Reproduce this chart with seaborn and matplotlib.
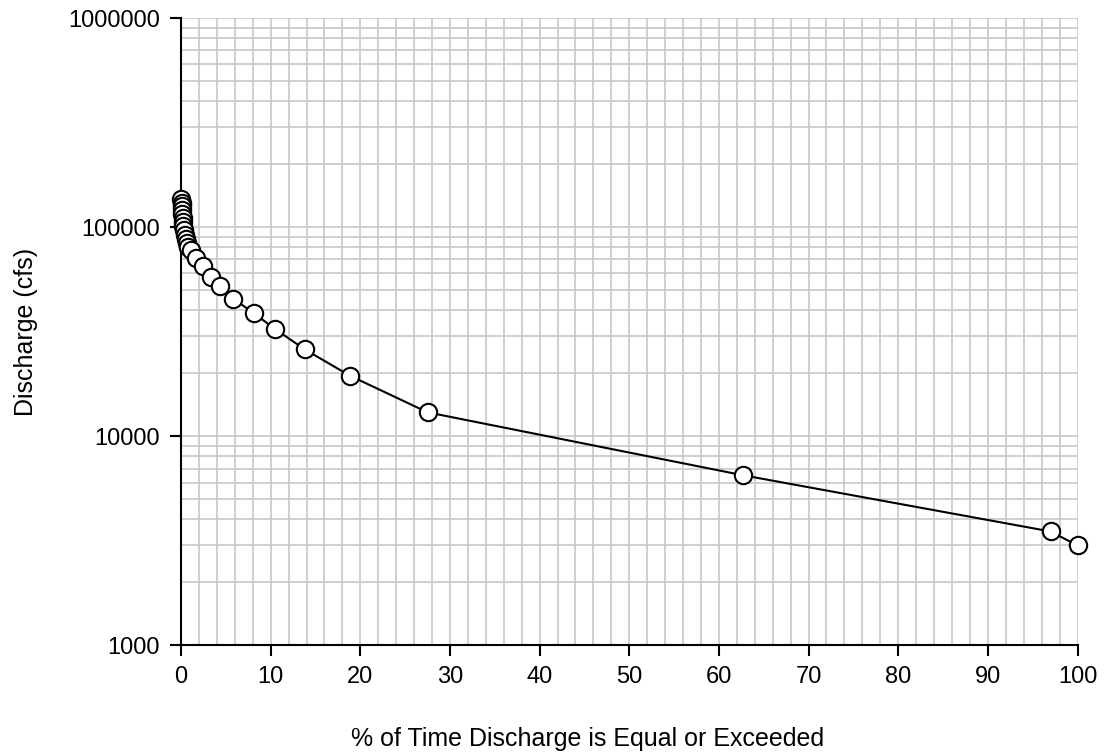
import matplotlib
matplotlib.use("Agg")
import matplotlib.pyplot as plt
import matplotlib.ticker as ticker
import pandas as pd
import seaborn as sns

# flow duration data
pct_exceeded = [0.03, 0.05, 0.08, 0.11, 0.14, 0.18, 0.22, 0.27, 0.33, 0.40,
                0.50, 0.62, 0.80, 1.1, 1.7, 2.4, 3.3, 4.3, 5.8, 8.1,
                10.5, 13.8, 18.8, 27.5, 62.7, 97.0, 100.0]
discharge = [136000, 131000, 126000, 121000, 116000, 111000, 106000, 101000, 96500, 92000,
             88000, 84000, 80000, 78000, 71500, 65000, 58000, 52000, 45500, 38800,
             32500, 26000, 19500, 13000, 6500, 3500, 3000]

df = pd.DataFrame({"pct": pct_exceeded, "q": discharge})

sns.set_style("white")
plt.rcParams["font.family"] = ["Liberation Sans", "DejaVu Sans"]
plt.rcParams["text.color"] = "black"
plt.rcParams["axes.labelcolor"] = "black"
plt.rcParams["xtick.color"] = "black"
plt.rcParams["ytick.color"] = "black"

fig = plt.figure(figsize=(11.04, 7.52), dpi=100)
ax = fig.add_axes([0.164, 0.142, 0.812, 0.834])

sns.lineplot(data=df, x="pct", y="q", ax=ax, color="black", linewidth=1.5,
             marker="o", markersize=12.5, markerfacecolor="white",
             markeredgecolor="black", markeredgewidth=1.5, sort=False,
             zorder=3, clip_on=False)

ax.set_yscale("log")
ax.set_xlim(0, 100)
ax.set_ylim(1000, 1000000)

ax.xaxis.set_major_locator(ticker.MultipleLocator(10))
ax.xaxis.set_minor_locator(ticker.MultipleLocator(2))
ax.yaxis.set_major_locator(ticker.LogLocator(base=10))
ax.yaxis.set_minor_locator(ticker.LogLocator(base=10, subs=range(2, 10)))
ax.yaxis.set_major_formatter(ticker.FuncFormatter(lambda v, p: f"{int(round(v))}"))
ax.yaxis.set_minor_formatter(ticker.NullFormatter())

ax.grid(which="both", color="#c8c8c8", linewidth=1.2)
ax.set_axisbelow(True)

for s in ["top", "right"]:
    ax.spines[s].set_visible(False)
for s in ["left", "bottom"]:
    ax.spines[s].set_color("black")
    ax.spines[s].set_linewidth(1.5)

ax.tick_params(which="major", direction="out", length=8, width=1.5, color="black",
               labelcolor="black", labelsize=17, left=True, bottom=True, pad=7)
ax.tick_params(which="minor", length=0)

ax.set_xlabel("% of Time Discharge is Equal or Exceeded", fontsize=18, color="black")
ax.xaxis.set_label_coords(0.454, -0.13)
ax.set_ylabel("Discharge (cfs)", fontsize=18, labelpad=22, color="black")

fig.savefig("out.png", dpi=100)
